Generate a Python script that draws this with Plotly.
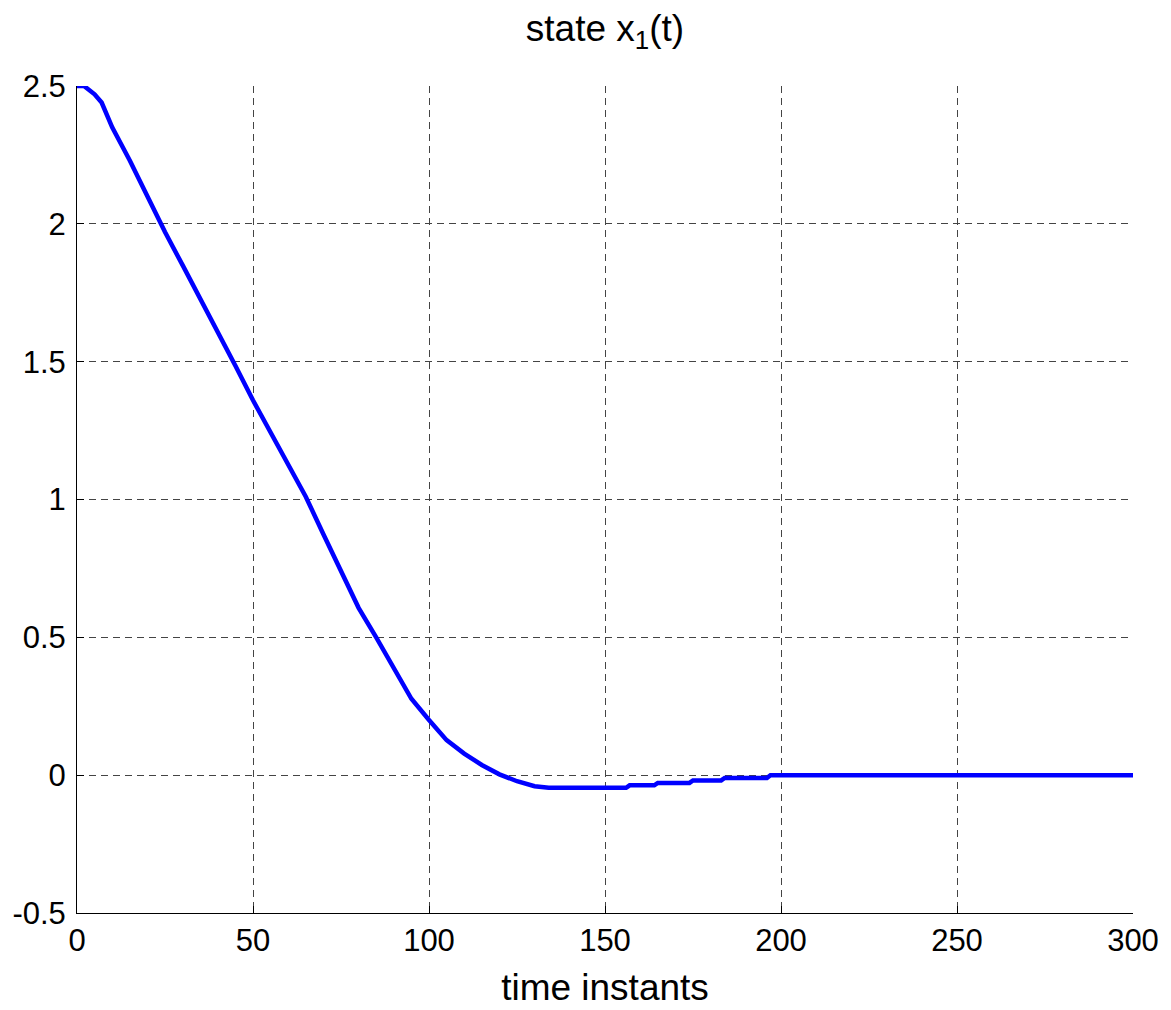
import plotly.graph_objects as go

# time instants and state values
t = [0, 2, 5, 7, 10, 15, 20, 25, 30, 35, 40, 45, 50, 55, 60, 65, 70, 75, 80, 85,
     90, 95, 100, 105, 110, 115, 120, 125, 130, 134, 156, 157, 164, 165, 174, 175,
     183, 184, 196, 197, 300]
x1 = [2.5, 2.5, 2.47, 2.44, 2.35, 2.23, 2.10, 1.97, 1.85, 1.73, 1.61, 1.485, 1.36,
      1.245, 1.126, 1.01, 0.874, 0.74, 0.607, 0.50, 0.39, 0.277, 0.20, 0.127, 0.078,
      0.037, 0.003, -0.022, -0.04, -0.046, -0.046, -0.037, -0.037, -0.028, -0.028,
      -0.019, -0.019, -0.01, -0.01, 0.0, 0.0]

x_ticks = [0, 50, 100, 150, 200, 250, 300]
y_ticks = [-0.5, 0, 0.5, 1, 1.5, 2, 2.5]
y_tick_text = ["-0.5", "0", "0.5", "1", "1.5", "2", "2.5"]

FONT = "Liberation Sans, Arial, sans-serif"
W, H = 1163, 1002

fig = go.Figure()
fig.add_trace(go.Scatter(x=t, y=x1, mode="lines",
                         line=dict(color="#0000FF", width=4.5), showlegend=False))

fig.update_layout(
    width=W, height=H,
    margin=dict(l=69, r=38, t=78, b=97),
    paper_bgcolor="white", plot_bgcolor="white",
    font=dict(family=FONT, color="black", size=31),
    title=dict(text="state x<sub>1</sub>(t)", x=597/W, xanchor="center",
               y=1 - 20/H, yanchor="middle", yref="container",
               font=dict(size=37, family=FONT, color="black")),
)
grid_dash = "7px,5px"
fig.update_xaxes(
    range=[0, 300], tickvals=x_ticks, ticks="inside", ticklen=7,
    tickcolor="black", showline=True, linecolor="black", linewidth=1,
    showgrid=True, gridcolor="#444", griddash=grid_dash, gridwidth=1,
    zeroline=False, tickfont=dict(size=31), automargin=False,
    title=dict(text="time instants", font=dict(size=37), standoff=16),
)
fig.update_yaxes(
    range=[-0.5, 2.5], tickvals=y_ticks, ticktext=y_tick_text, ticks="inside",
    ticklen=7, tickcolor="black", showline=True, linecolor="black", linewidth=1,
    showgrid=True, gridcolor="#444", griddash=grid_dash, gridwidth=1,
    zeroline=False, tickfont=dict(size=31), ticklabelstandoff=4,
    automargin=False,
)

fig.write_html("out.html")
